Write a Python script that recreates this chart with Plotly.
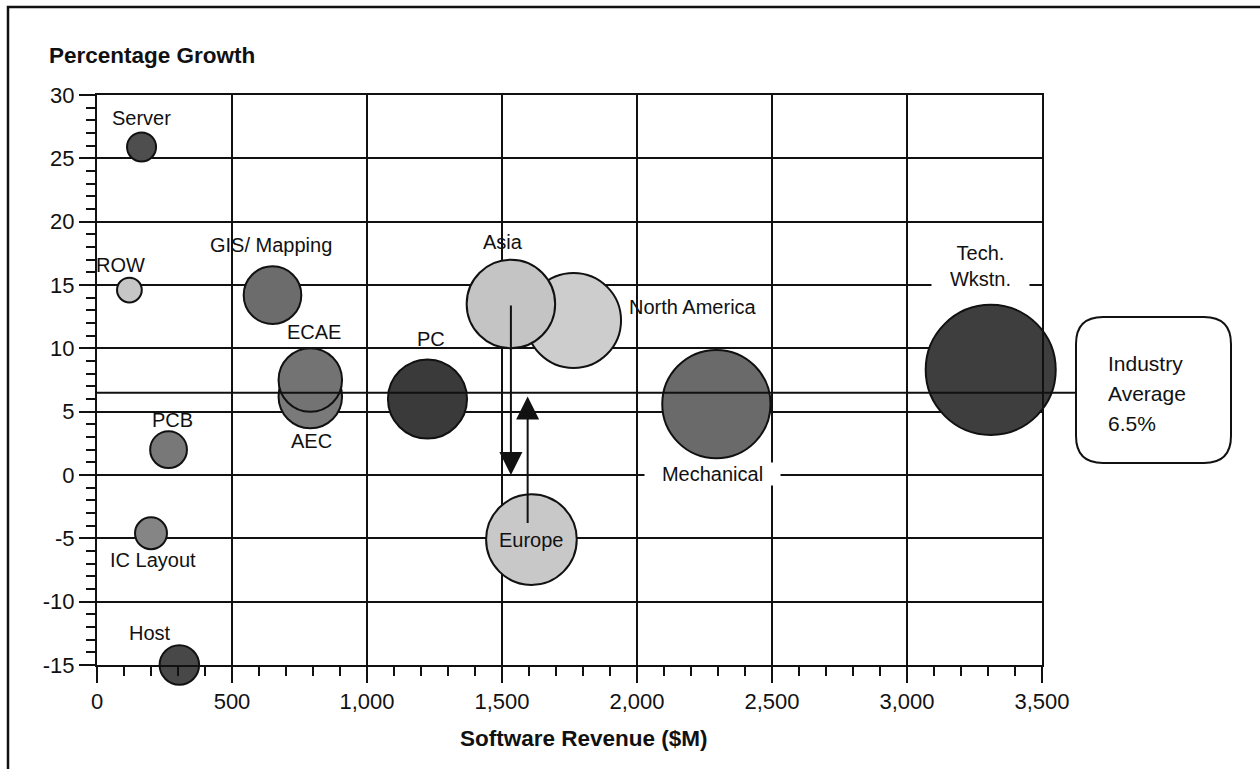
import plotly.graph_objects as go

# Segment data: software revenue ($M) vs. percentage growth
segments = ["Server", "ROW", "GIS/ Mapping", "AEC", "ECAE", "PC", "PCB",
            "IC Layout", "Host", "North America", "Asia", "Europe",
            "Mechanical", "Tech. Wkstn."]
revenue = [165, 120, 650, 790, 790, 1224, 265, 200, 305, 1765, 1533, 1609, 2294, 3310]
growth = [25.9, 14.6, 14.2, 6.2, 7.5, 6.0, 2.0, -4.6, -15.0, 12.2, 13.5, -5.1, 5.6, 8.3]

industry_average = 6.5

# Regional shift arrows: (x, from_y, to_y)
arrow_x = [1533, 1595]
arrow_from = [13.5, -3.9]
arrow_to = [0.0, 6.2]

x_ticks = [0, 500, 1000, 1500, 2000, 2500, 3000, 3500]
y_ticks = [-15, -10, -5, 0, 5, 10, 15, 20, 25, 30]

# Styling
fills = {
    "Server": "#4e4e4e", "ROW": "#c6c6c6", "GIS/ Mapping": "#6c6c6c",
    "AEC": "#7a7a7a", "ECAE": "#737373", "PC": "#3a3a3a", "PCB": "#787878",
    "IC Layout": "#858585", "Host": "#484848", "North America": "#cdcdcd",
    "Asia": "#c4c4c4", "Europe": "#c8c8c8", "Mechanical": "#6a6a6a",
    "Tech. Wkstn.": "#3e3e3e",
}
# label offsets in pixels (dx, dy up), optional white backing width
label_style = {
    "Server": (0, 29, None), "ROW": (-9, 25, None), "GIS/ Mapping": (-2, 50, None),
    "AEC": (1, -45, None), "ECAE": (4, 48, None), "PC": (4, 60, None),
    "PCB": (4, 30, None), "IC Layout": (2, -27, None), "Host": (-29, 32, None),
    "North America": (119, 13, None), "Asia": (-8, 62, None), "Europe": (0, 0, None),
    "Mechanical": (-4, -70, 135), "Tech. Wkstn.": (-10, 104, 97),
}

W, H = 1260, 769
L, R, T, B = 97, 218, 95, 104
PW, PH = W - L - R, H - T - B
FONT = "Liberation Sans, Arial, Helvetica, sans-serif"
INK = "#111111"


def px_x(px):
    return (px - L) / PW


def px_y(py):
    return (H - B - py) / PH


fig = go.Figure()

fig.add_trace(go.Scatter(
    x=revenue, y=growth, mode="markers", cliponaxis=False, hoverinfo="text",
    text=segments,
    marker=dict(size=revenue, sizemode="area", sizeref=0.3915,
                color=[fills[s] for s in segments],
                line=dict(color="#111111", width=2), opacity=1),
    showlegend=False,
))

annotations = []
for s, xv, yv in zip(segments, revenue, growth):
    dx, dy, bw = label_style[s]
    ann = dict(x=xv, y=yv, xref="x", yref="y", showarrow=False,
               text=s.replace("Tech. ", "Tech.<br>"), xshift=dx, yshift=dy,
               font=dict(family=FONT, size=20, color=INK))
    if bw:
        ann.update(bgcolor="white", width=bw, borderpad=0)
    annotations.append(ann)

for ax_, y0, y1 in zip(arrow_x, arrow_from, arrow_to):
    annotations.append(dict(x=ax_, y=y1, ax=ax_, ay=y0, xref="x", yref="y",
                            axref="x", ayref="y", text="", showarrow=True,
                            arrowhead=2, arrowsize=2.3, arrowwidth=2,
                            arrowcolor="#111111", standoff=0, startstandoff=0))

# Axis titles
annotations.append(dict(x=px_x(47), y=px_y(55), xref="paper", yref="paper",
                        xanchor="left", yanchor="middle", showarrow=False,
                        text="<b>Percentage Growth</b>",
                        font=dict(family=FONT, size=22.5, color=INK)))
annotations.append(dict(x=px_x(584), y=px_y(738), xref="paper", yref="paper",
                        xanchor="center", yanchor="middle", showarrow=False,
                        text="<b>Software Revenue ($M)</b>",
                        font=dict(family=FONT, size=22.5, color=INK)))

# Industry average callout, one line per row
callout_lines = ["Industry", "Average", "%.1f%%" % industry_average]
for i, line in enumerate(callout_lines):
    annotations.append(dict(x=px_x(1106), y=px_y(363 + 30 * i),
                            xref="paper", yref="paper",
                            xanchor="left", yanchor="middle", align="left",
                            showarrow=False, text=line,
                            font=dict(family=FONT, size=21, color=INK)))

bx0, bx1 = px_x(1076), px_x(1231)
by0, by1 = px_y(463), px_y(317)
rx, ry = 27 / PW, 27 / PH
box_path = (f"M{bx0+rx},{by1} L{bx1-rx},{by1} Q{bx1},{by1} {bx1},{by1-ry} "
            f"L{bx1},{by0+ry} Q{bx1},{by0} {bx1-rx},{by0} L{bx0+rx},{by0} "
            f"Q{bx0},{by0} {bx0},{by0+ry} L{bx0},{by1-ry} Q{bx0},{by1} {bx0+rx},{by1} Z")

shapes = [
    # outer frame
    dict(type="rect", xref="paper", yref="paper", x0=px_x(8), x1=px_x(1275),
         y0=px_y(785), y1=px_y(7), line=dict(color="#111111", width=2.5),
         layer="below"),
    # industry average line
    dict(type="line", xref="paper", yref="y", x0=0, x1=bx0,
         y0=industry_average, y1=industry_average,
         line=dict(color="#111111", width=2), layer="above"),
    dict(type="path", xref="paper", yref="paper", path=box_path,
         line=dict(color="#111111", width=2), fillcolor="white", layer="above"),
]

axis_common = dict(
    showline=True, mirror=True, linecolor="#111111", linewidth=2,
    showgrid=True, gridcolor="#111111", gridwidth=1.5, zeroline=False,
    ticks="outside", ticklen=16, tickwidth=1.5, tickcolor="#111111",
    tickfont=dict(family=FONT, size=22, color=INK),
)

fig.update_layout(
    width=W, height=H, margin=dict(l=L, r=R, t=T, b=B),
    paper_bgcolor="white", plot_bgcolor="white",
    xaxis=dict(range=[0, 3500], tickmode="array", tickvals=x_ticks,
               ticktext=[f"{v:,}" for v in x_ticks],
               minor=dict(tickmode="linear", tick0=0, dtick=100, ticks="outside",
                          ticklen=9, tickwidth=1.5, tickcolor="#111111",
                          showgrid=False),
               **axis_common),
    yaxis=dict(range=[-15, 30], tickmode="array", tickvals=y_ticks,
               ticktext=[str(v) for v in y_ticks],
               minor=dict(tickmode="linear", tick0=0, dtick=1, ticks="outside",
                          ticklen=9, tickwidth=1.5, tickcolor="#111111",
                          showgrid=False),
               **axis_common),
    annotations=annotations,
    shapes=shapes,
)

fig.write_html("out.html")
